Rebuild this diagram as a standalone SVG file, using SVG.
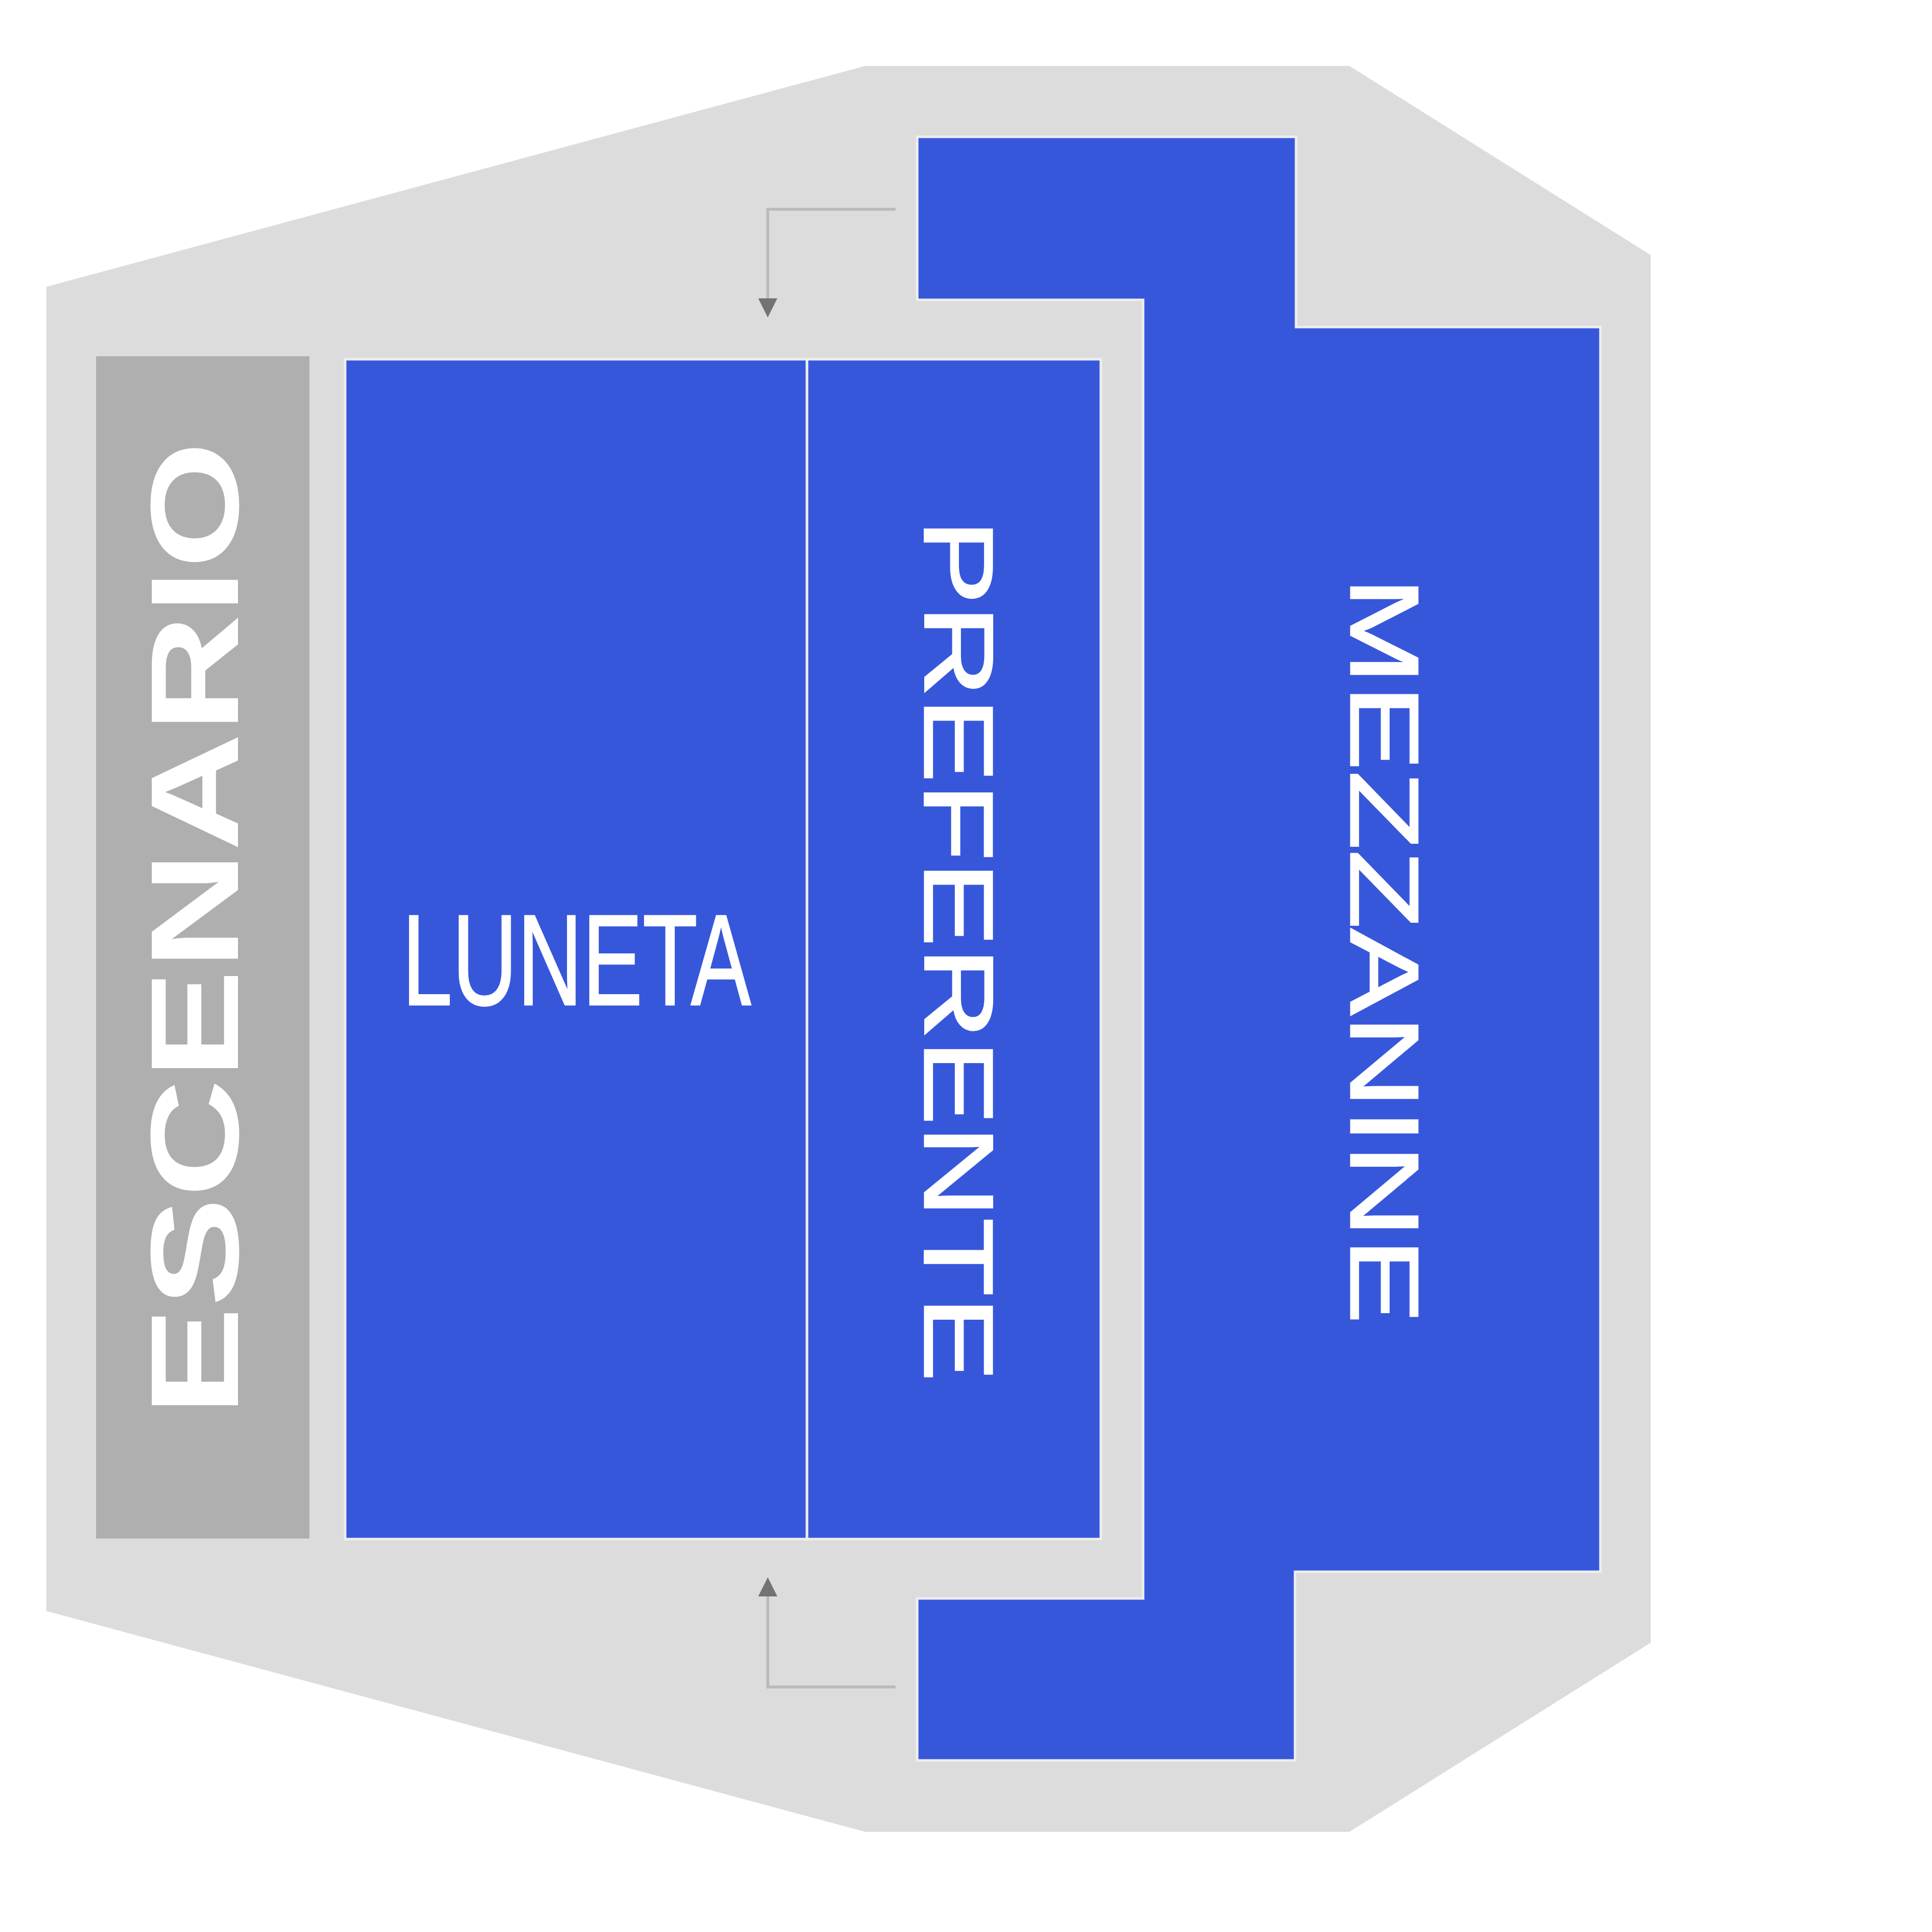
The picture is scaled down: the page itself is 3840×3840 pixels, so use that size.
<svg xmlns="http://www.w3.org/2000/svg" width="3840" height="3840" viewBox="0 0 3840 3840">
  <style>
    .zone { fill: #3757db; stroke: #eeeeee; stroke-width: 5; }
    .lbl { fill: #ffffff; font-family: "Liberation Sans", Arial, sans-serif; }
    .reg { stroke: #ffffff; stroke-width: 3; }
    .conn { fill: none; stroke: #bbbbbb; stroke-width: 6; }
  </style>
  <defs>
    <marker id="ah" viewBox="0 0 10 10" refX="0" refY="5" markerUnits="userSpaceOnUse" markerWidth="47" markerHeight="38" orient="auto">
      <path d="M0,0 L10,5 L0,10 z" fill="#737373"/>
    </marker>
  </defs>
  <rect width="3840" height="3840" fill="#ffffff"/>
  <g id="hall">
    <polygon points="92,570 1720,131 2682,131 3281,507 3281,3265 2682,3641 1720,3641 92,3202" fill="#dcdcdc"/>
  </g>
  <g id="escenario">
    <rect x="191" y="708" width="424" height="2350" fill="#afafaf"/>
    <text class="lbl" transform="translate(473,1846) rotate(-90) scale(1.309,1)" text-anchor="middle" font-size="249" font-weight="bold">ESCENARIO</text>
  </g>
  <g id="luneta">
    <rect class="zone" x="686" y="714" width="918" height="2345"/>
    <text class="lbl reg" transform="translate(1146,1997) scale(0.697,1)" text-anchor="middle" font-size="257">LUNETA</text>
  </g>
  <g id="preferente">
    <rect class="zone" x="1604" y="714" width="584" height="2345"/>
    <text class="lbl reg" transform="translate(1838,1889) rotate(90) scale(1.315,1)" text-anchor="middle" font-size="194">PREFERENTE</text>
  </g>
  <g id="mezzanine">
    <polygon class="zone" points="1823,272 2576,272 2576,650 3181,650 3181,3124 2574,3124 2574,3499 1823,3499 1823,3177 2272,3177 2272,596 1823,596"/>
    <text class="lbl reg" transform="translate(2685,1889) rotate(90) scale(1.332,1)" text-anchor="middle" font-size="193">MEZZANINE</text>
  </g>
  <g id="connectors">
    <path class="conn" d="M1780,416 L1526,416 L1526,593" marker-end="url(#ah)"/>
    <path class="conn" d="M1780,3353 L1526,3353 L1526,3173" marker-end="url(#ah)"/>
  </g>
</svg>
